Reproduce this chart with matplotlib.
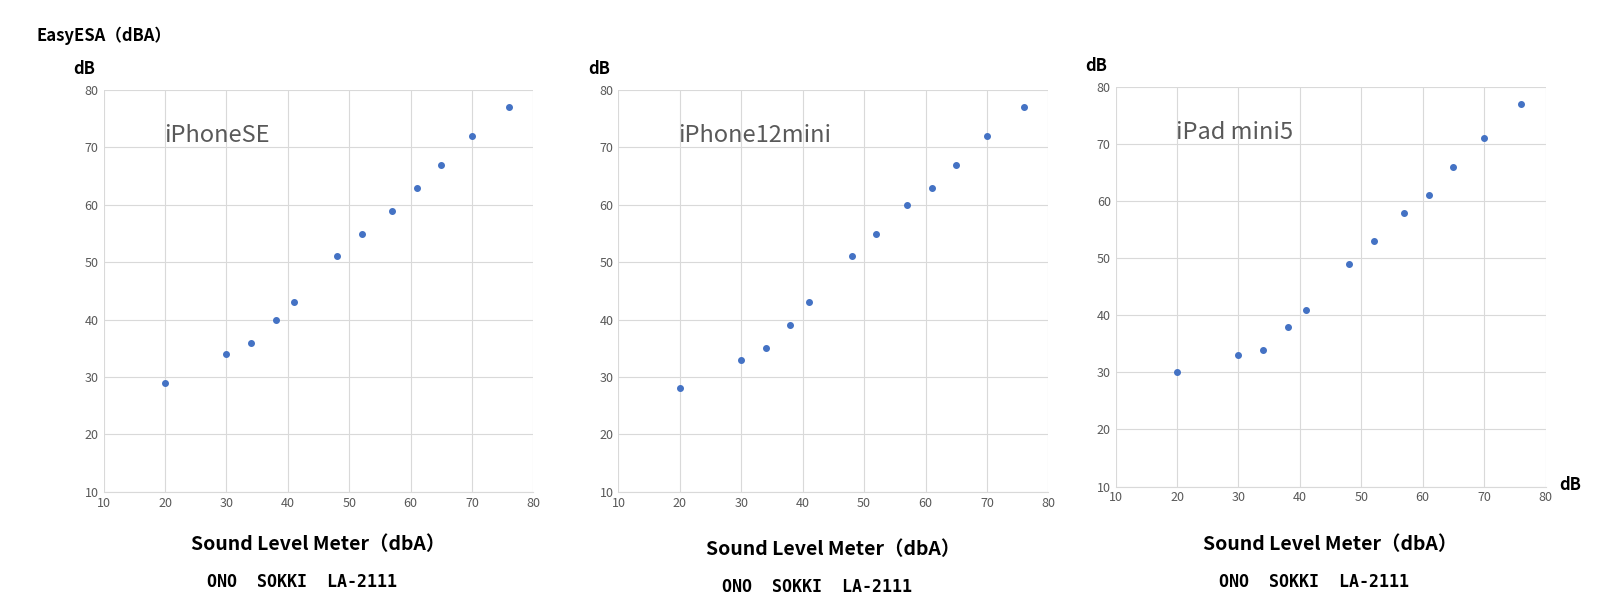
import matplotlib
matplotlib.use("Agg")
import matplotlib.pyplot as plt

plt.rcParams["font.family"] = ["Noto Sans CJK JP", "DejaVu Sans"]

meter_x = [20, 30, 34, 38, 41, 48, 52, 57, 61, 65, 70, 76]
iphone_se = [29, 34, 36, 40, 43, 51, 55, 59, 63, 67, 72, 77]
iphone_12mini = [28, 33, 35, 39, 43, 51, 55, 60, 63, 67, 72, 77]
ipad_mini5 = [30, 33, 34, 38, 41, 49, 53, 58, 61, 66, 71, 77]
device_names = ["iPhoneSE", "iPhone12mini", "iPad mini5"]

W, H = 1560, 595
# (left, top, right, bottom) in reference pixels
boxes = [(100, 87, 515, 475), (597, 87, 1012, 475), (1077, 84, 1492, 470)]
label_y = [(526, 562), (531, 567), (526, 562)]

fig = plt.figure(figsize=(16.16, 6.16), dpi=100)

for (l, t, r, b), (ly1, ly2), name, ys in zip(boxes, label_y, device_names,
                                              [iphone_se, iphone_12mini, ipad_mini5]):
    ax = fig.add_axes([l / W, 1 - b / H, (r - l) / W, (b - t) / H])
    ax.scatter(meter_x, ys, s=16, color="#4472C4", zorder=3)
    ax.set_xlim(10, 80)
    ax.set_ylim(10, 80)
    ax.set_xticks(range(10, 81, 10))
    ax.set_yticks(range(10, 81, 10))
    ax.grid(True, color="#D9D9D9", lw=0.8)
    for s in ["top", "right", "left"]:
        ax.spines[s].set_visible(False)
    ax.spines["bottom"].set_color("#D9D9D9")
    ax.tick_params(length=0, labelsize=9, colors="#595959")
    ax.text(0.14, 0.87, name, transform=ax.transAxes, fontsize=17, color="#595959")
    ax.text(-0.07, 1.04, "dB", transform=ax.transAxes, fontsize=12, weight="bold")
    cx = (l + r) / 2 / W
    fig.text(cx, 1 - ly1 / H, "Sound Level Meter（dbA）",
             ha="center", va="center", fontsize=14, weight="bold")
    fig.text(cx - 0.01, 1 - ly2 / H, "ONO  SOKKI  LA-2111", ha="center", va="center",
             fontsize=12, weight="bold", family="DejaVu Sans Mono")

fig.text(35 / W, 1 - 35 / H, "EasyESA（dBA）", ha="left", va="center", fontsize=12, weight="bold")
fig.text(1505 / W, 1 - 468 / H, "dB", ha="left", va="center", fontsize=12, weight="bold")

fig.savefig("out.png", dpi=100)
